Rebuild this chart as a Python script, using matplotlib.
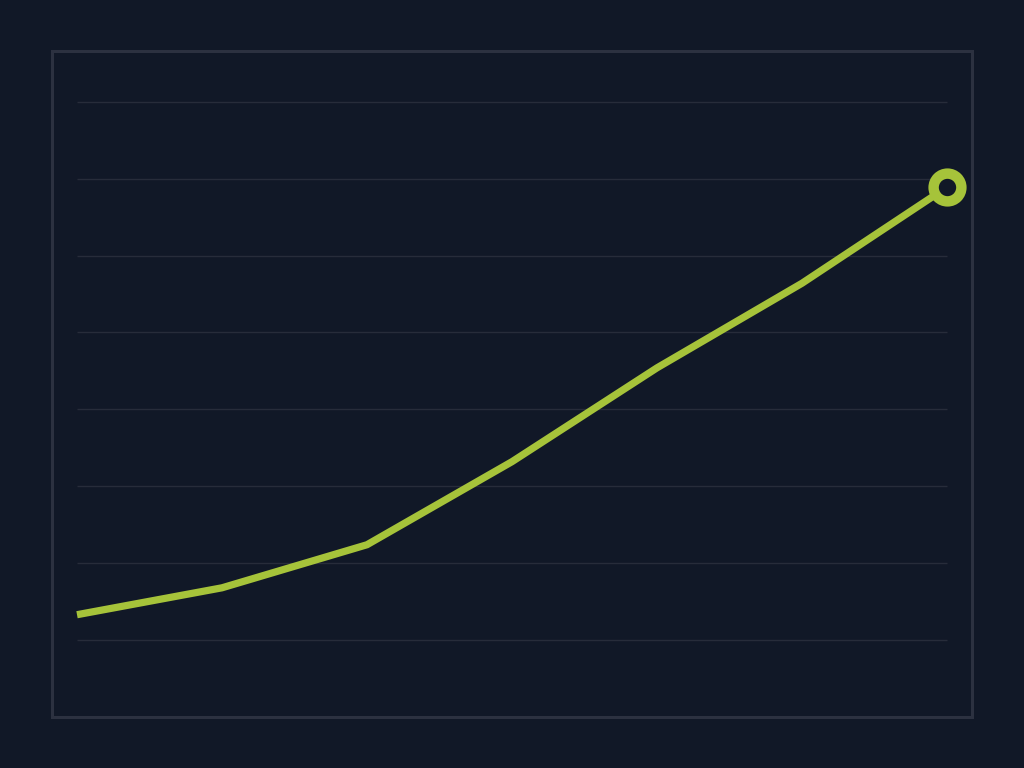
import matplotlib

matplotlib.use("Agg")
import matplotlib.pyplot as plt

# Data (gridlines every 10 units)
steps = [0, 1, 2, 3, 4, 5, 6]
values = [3.3, 6.8, 12.4, 23.2, 35.4, 46.4, 58.9]
grid_levels = [0, 10, 20, 30, 40, 50, 60, 70]

BG = "#111827"
GRID = "#272c3a"
FRAME = "#2c3140"
LINE = "#a6c33a"

fig = plt.figure(figsize=(10.24, 7.68), dpi=100, facecolor=BG)
ax = fig.add_axes([52 / 1024, 1 - 717 / 768, 920 / 1024, 666 / 768])
ax.set_facecolor(BG)

for s in ax.spines.values():
    s.set_color(FRAME)
    s.set_linewidth(2.2)

ax.hlines(grid_levels, steps[0], steps[-1], color=GRID, linewidth=1.0, zorder=1)

ax.plot(steps, values, color=LINE, linewidth=5.2, solid_capstyle="butt",
        solid_joinstyle="miter", zorder=3)
# end-point marker: thick ring with a small dark hole
ax.plot(steps[-1], values[-1], marker="o", markersize=20, markerfacecolor=BG,
        markeredgecolor=LINE, markeredgewidth=7.5, zorder=4)

ax.set_xlim(-25 / 145, 6 + 25 / 145)
ax.set_ylim(-10.0, 76.6)
ax.set_xticks([])
ax.set_yticks([])

fig.savefig("out.png", dpi=100, facecolor=BG)
